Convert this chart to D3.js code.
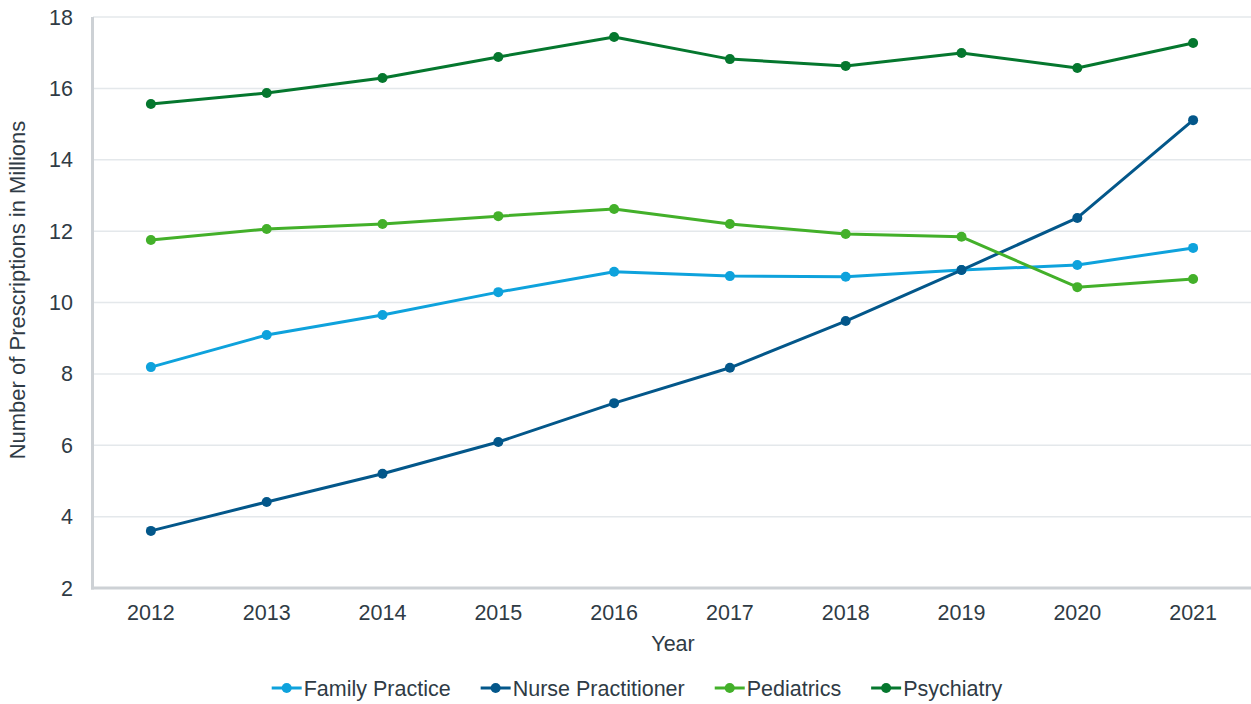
<!DOCTYPE html>
<html>
<head>
<meta charset="utf-8">
<script src="https://cdn.jsdelivr.net/npm/d3@7"></script>
<style>
  body { margin: 0; background: #fff; }
  svg { display: block; font-family: "Liberation Sans", Arial, sans-serif; }
</style>
</head>
<body>
<svg id="chart" width="1251" height="704"></svg>
<script>
// chart data
const years = ["2012", "2013", "2014", "2015", "2016", "2017", "2018", "2019", "2020", "2021"];
const familyPractice = [8.19, 9.09, 9.65, 10.29, 10.86, 10.74, 10.72, 10.91, 11.05, 11.53];
const nursePractitioner = [3.60, 4.41, 5.20, 6.09, 7.18, 8.17, 9.48, 10.91, 12.37, 15.11];
const pediatrics = [11.75, 12.06, 12.20, 12.42, 12.62, 12.20, 11.92, 11.84, 10.43, 10.66];
const psychiatry = [15.56, 15.87, 16.29, 16.88, 17.44, 16.82, 16.63, 16.99, 16.57, 17.27];
const yTicks = [2, 4, 6, 8, 10, 12, 14, 16, 18];

const series = [
  { name: "Family Practice", values: familyPractice, color: "#0ea2dc" },
  { name: "Nurse Practitioner", values: nursePractitioner, color: "#03578a" },
  { name: "Pediatrics", values: pediatrics, color: "#43b02a" },
  { name: "Psychiatry", values: psychiatry, color: "#05772e" }
];

const svg = d3.select("#chart");
const margin = { top: 17, right: 0, bottom: 116, left: 93 };
const width = 1251, height = 704;
const textColor = "#2f3b45";
const fontSize = 21.5;

const x = d3.scalePoint().domain(years).range([margin.left, width - margin.right]).padding(0.5);
const y = d3.scaleLinear().domain([2, 18]).range([height - margin.bottom, margin.top]);

// gridlines
svg.append("g")
  .selectAll("line")
  .data(yTicks.filter(t => t > 2))
  .join("line")
  .attr("x1", margin.left)
  .attr("x2", width - margin.right)
  .attr("y1", d => y(d))
  .attr("y2", d => y(d))
  .attr("stroke", "#e4e8eb")
  .attr("stroke-width", 1.5);

// axis lines
svg.append("line")
  .attr("x1", margin.left - 0.5).attr("x2", margin.left - 0.5)
  .attr("y1", margin.top).attr("y2", y(2) + 1.5)
  .attr("stroke", "#cdd1d5").attr("stroke-width", 3);
svg.append("line")
  .attr("x1", margin.left - 2).attr("x2", width)
  .attr("y1", y(2)).attr("y2", y(2))
  .attr("stroke", "#cdd1d5").attr("stroke-width", 3);

// y tick labels
svg.append("g")
  .selectAll("text")
  .data(yTicks)
  .join("text")
  .attr("x", 73)
  .attr("y", d => y(d))
  .attr("dy", "0.35em")
  .attr("text-anchor", "end")
  .attr("font-size", fontSize)
  .attr("fill", textColor)
  .text(d => d);

// x tick labels
svg.append("g")
  .selectAll("text")
  .data(years)
  .join("text")
  .attr("x", d => x(d))
  .attr("y", 620)
  .attr("text-anchor", "middle")
  .attr("font-size", fontSize)
  .attr("fill", textColor)
  .text(d => d);

// axis titles
svg.append("text")
  .attr("x", 673).attr("y", 651)
  .attr("text-anchor", "middle")
  .attr("font-size", fontSize)
  .attr("fill", textColor)
  .text("Year");
svg.append("text")
  .attr("transform", "translate(25,290) rotate(-90)")
  .attr("text-anchor", "middle")
  .attr("font-size", 22)
  .attr("fill", textColor)
  .text("Number of Prescriptions in Millions");

// lines and points
const line = d3.line().x((d, i) => x(years[i])).y(d => y(d));
series.forEach(s => {
  const g = svg.append("g");
  g.append("path")
    .datum(s.values)
    .attr("d", line)
    .attr("fill", "none")
    .attr("stroke", s.color)
    .attr("stroke-width", 3)
    .attr("stroke-linejoin", "round");
  g.selectAll("circle")
    .data(s.values)
    .join("circle")
    .attr("cx", (d, i) => x(years[i]))
    .attr("cy", d => y(d))
    .attr("r", 5)
    .attr("fill", s.color);
});

// legend
const legend = svg.append("g");
let lx = 0;
series.forEach(s => {
  const item = legend.append("g").attr("transform", `translate(${lx},0)`);
  item.append("line").attr("x1", 0).attr("x2", 30).attr("y1", 0).attr("y2", 0)
    .attr("stroke", s.color).attr("stroke-width", 3);
  item.append("circle").attr("cx", 15).attr("cy", 0).attr("r", 5).attr("fill", s.color);
  const t = item.append("text").attr("x", 32).attr("y", 0).attr("dy", "0.35em")
    .attr("font-size", fontSize).attr("fill", textColor).text(s.name);
  lx += 32 + t.node().getComputedTextLength() + 30;
});
const legendWidth = lx - 30;
legend.attr("transform", `translate(${637 - legendWidth / 2},688)`);
</script>
</body>
</html>
